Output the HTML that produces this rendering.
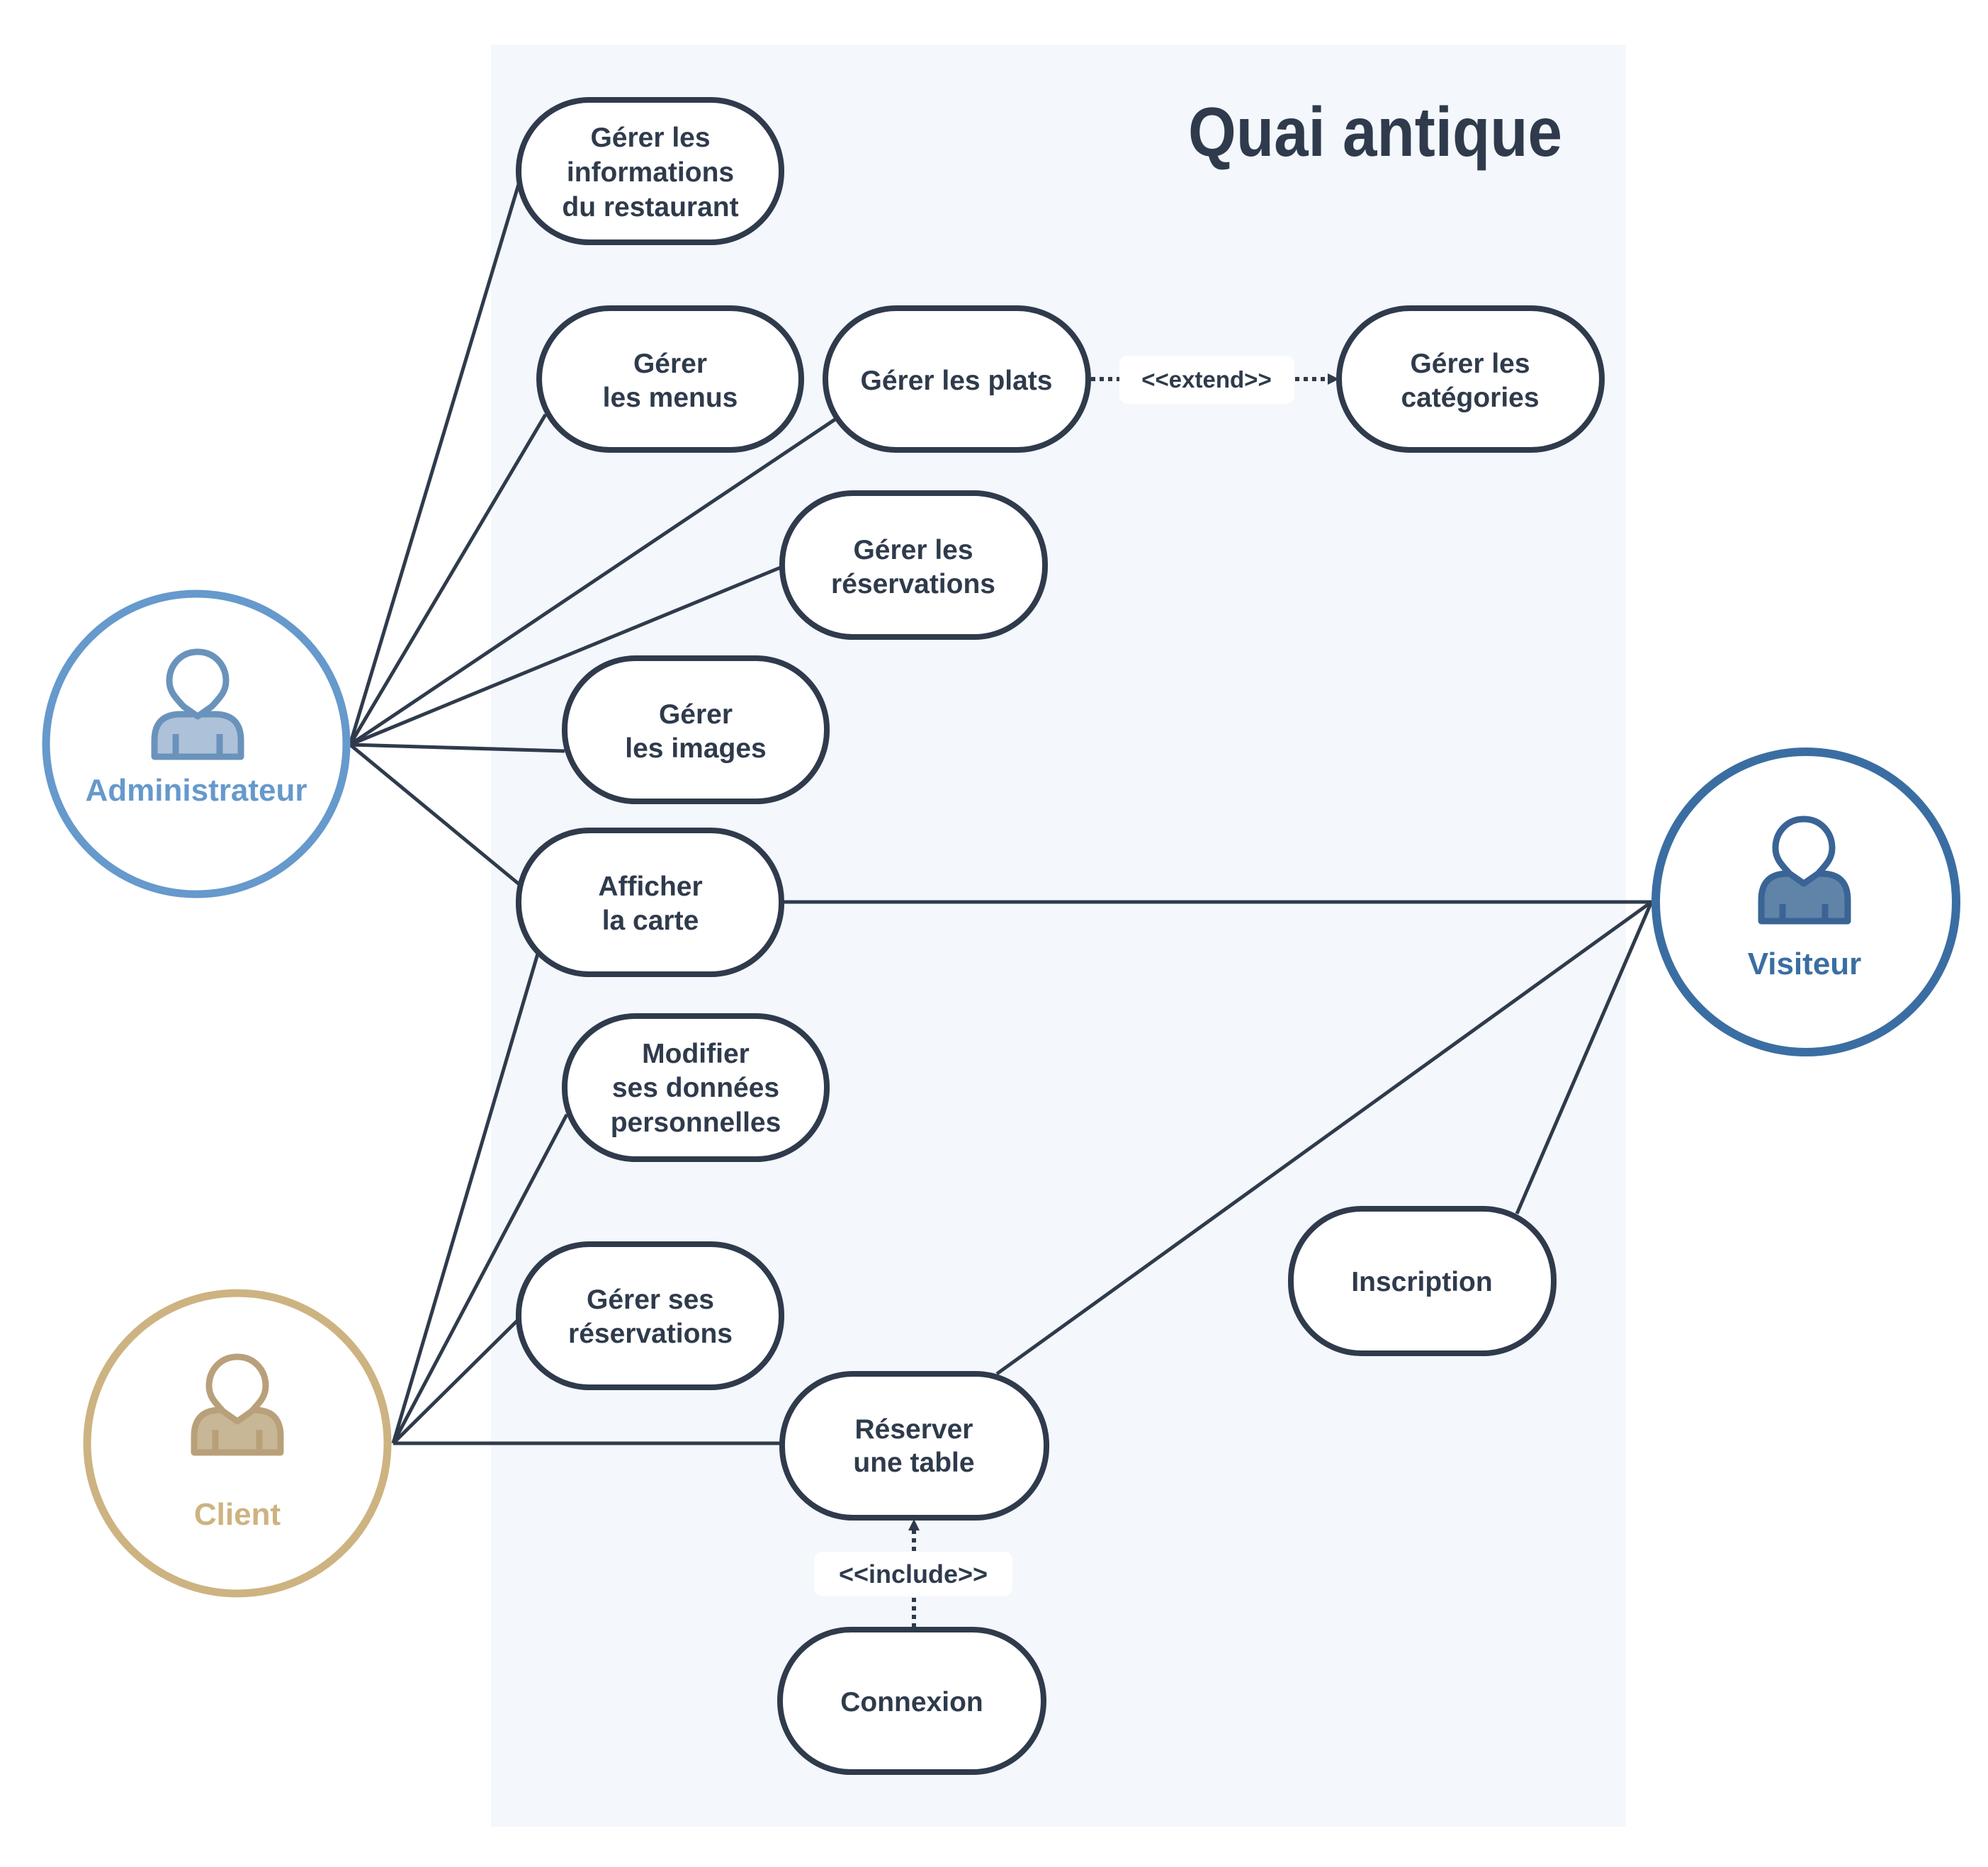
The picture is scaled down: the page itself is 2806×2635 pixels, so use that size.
<!DOCTYPE html>
<html><head><meta charset="utf-8"><style>
html,body{margin:0;padding:0;background:#fff;}
svg{display:block;}
text{font-family:"Liberation Sans",sans-serif;font-weight:bold;}
</style></head><body>
<svg width="2806" height="2635" viewBox="0 0 2806 2635" xmlns="http://www.w3.org/2000/svg">
<rect x="0" y="0" width="2806" height="2635" fill="#fff"/>
<rect x="693" y="63" width="1602" height="2515" fill="#f4f7fb"/>
<text x="1677" y="220" font-size="98" fill="#2f3b4c" textLength="528" lengthAdjust="spacingAndGlyphs">Quai antique</text>

<g stroke="#2f3b4c" stroke-width="5" fill="none">
<line x1="494" y1="1051" x2="732" y2="260"/>
<line x1="494" y1="1051" x2="770" y2="585"/>
<line x1="494" y1="1051" x2="1180" y2="591"/>
<line x1="494" y1="1051" x2="1104" y2="800"/>
<line x1="494" y1="1051" x2="797" y2="1060"/>
<line x1="494" y1="1051" x2="734" y2="1249"/>
<line x1="555" y1="2037" x2="759" y2="1346"/>
<line x1="555" y1="2037" x2="800" y2="1573"/>
<line x1="555" y1="2037" x2="732" y2="1862"/>
<line x1="555" y1="2037" x2="1104" y2="2037"/>
<line x1="2331" y1="1273" x2="1103" y2="1273"/>
<line x1="2331" y1="1273" x2="1407" y2="1939"/>
<line x1="2331" y1="1273" x2="2141" y2="1713"/>
</g>
<g stroke="#2f3b4c" stroke-width="6" stroke-dasharray="6 6" fill="none">
<line x1="1540" y1="535" x2="1875" y2="535"/>
<line x1="1290" y1="2297" x2="1290" y2="2160"/>
</g>
<polygon points="1890,535 1874,527 1874,543" fill="#2f3b4c"/>
<polygon points="1290,2144 1282,2160 1298,2160" fill="#2f3b4c"/>
<rect x="1580" y="502" width="247" height="68" rx="12" fill="#fff"/>
<text x="1703" y="547" font-size="33" fill="#2f3b4c" text-anchor="middle">&lt;&lt;extend&gt;&gt;</text>
<rect x="1149" y="2190" width="280" height="63" rx="12" fill="#fff"/>
<text x="1289" y="2234" font-size="36" fill="#2f3b4c" text-anchor="middle">&lt;&lt;include&gt;&gt;</text>

<g stroke="#2f3b4c" stroke-width="8" fill="#fff">
<rect x="732" y="141" width="371" height="201" rx="100"/>
<rect x="761" y="435" width="370" height="200" rx="100"/>
<rect x="1165" y="435" width="371" height="200" rx="100"/>
<rect x="1890" y="435" width="371" height="200" rx="100"/>
<rect x="1104" y="696" width="371" height="203" rx="100"/>
<rect x="797" y="929" width="370" height="202" rx="100"/>
<rect x="732" y="1172" width="371" height="203" rx="100"/>
<rect x="797" y="1434" width="370" height="202" rx="100"/>
<rect x="732" y="1756" width="371" height="202" rx="100"/>
<rect x="1822" y="1706" width="371" height="204" rx="100"/>
<rect x="1104" y="1939" width="373" height="203" rx="100"/>
<rect x="1101" y="2300" width="372" height="201" rx="100"/>
</g>

<g font-size="39" fill="#2f3b4c" text-anchor="middle">
<text x="918" y="207">Gérer les</text><text x="918" y="256">informations</text><text x="918" y="305">du restaurant</text>
<text x="946" y="526">Gérer</text><text x="946" y="574">les menus</text>
<text x="1350" y="550">Gérer les plats</text>
<text x="2075" y="526">Gérer les</text><text x="2075" y="574">catégories</text>
<text x="1289" y="789">Gérer les</text><text x="1289" y="837">réservations</text>
<text x="982" y="1021">Gérer</text><text x="982" y="1069">les images</text>
<text x="918" y="1264">Afficher</text><text x="918" y="1312">la carte</text>
<text x="982" y="1500">Modifier</text><text x="982" y="1548">ses données</text><text x="982" y="1597">personnelles</text>
<text x="918" y="1847">Gérer ses</text><text x="918" y="1895">réservations</text>
<text x="2007" y="1822">Inscription</text>
<text x="1290" y="2030">Réserver</text><text x="1290" y="2077">une table</text>
<text x="1287" y="2415">Connexion</text>
</g>

<!-- Administrateur -->
<circle cx="277" cy="1050" r="212" fill="#fff" stroke="#6699cc" stroke-width="11"/>
<g stroke="#6a93bb" stroke-width="9" stroke-linejoin="round">
<path d="M218 1045 q0-37 37-37 h48 q37 0 37 37 v23 h-122z" fill="#adc2d9"/>
<path d="M279 920 c-24 0-40 19-40 41 c0 14 7 22 20 36 l20 14 l20-14 c13-14 20-22 20-36 c0-22-16-41-40-41z" fill="#fff"/>
<line x1="248" y1="1036" x2="248" y2="1066"/><line x1="310" y1="1036" x2="310" y2="1066"/>
</g>
<text x="277" y="1130" font-size="44" fill="#6699cc" text-anchor="middle">Administrateur</text>

<!-- Client -->
<circle cx="335" cy="2037" r="212" fill="#fff" stroke="#cdb381" stroke-width="11"/>
<g stroke="#b8a07a" stroke-width="9" stroke-linejoin="round">
<path d="M274 2027 q0-37 37-37 h48 q37 0 37 37 v23 h-122z" fill="#c8b796"/>
<path d="M335 1915 c-24 0-40 19-40 41 c0 14 7 22 20 36 l20 14 l20-14 c13-14 20-22 20-36 c0-22-16-41-40-41z" fill="#fff"/>
<line x1="304" y1="2018" x2="304" y2="2048"/><line x1="366" y1="2018" x2="366" y2="2048"/>
</g>
<text x="335" y="2152" font-size="44" fill="#cdb381" text-anchor="middle">Client</text>

<!-- Visiteur -->
<circle cx="2549" cy="1273" r="212" fill="#fff" stroke="#3a6ea2" stroke-width="12"/>
<g stroke="#3a6496" stroke-width="9" stroke-linejoin="round">
<path d="M2486 1270 q0-37 37-37 h48 q37 0 37 37 v30 h-122z" fill="#5f84a8"/>
<path d="M2546 1156 c-24 0-40 19-40 41 c0 14 7 22 20 36 l20 14 l20-14 c13-14 20-22 20-36 c0-22-16-41-40-41z" fill="#fff"/>
<line x1="2516" y1="1276" x2="2516" y2="1300"/><line x1="2576" y1="1276" x2="2576" y2="1300"/>
</g>
<text x="2547" y="1375" font-size="44" fill="#3a6ea2" text-anchor="middle">Visiteur</text>
</svg>
</body></html>
